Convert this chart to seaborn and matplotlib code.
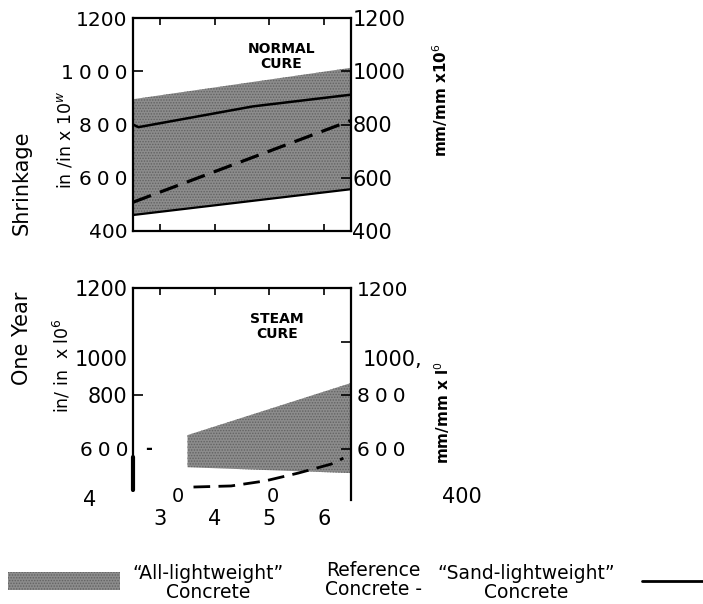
import numpy as np
import pandas as pd
import matplotlib
matplotlib.use("Agg")
import matplotlib.pyplot as plt
from matplotlib.patches import Rectangle
from matplotlib.lines import Line2D
import seaborn as sns

# ---- data (shrinkage, in/in x 10^6) ----
# Normal cure
normal_x = [2.5, 6.5]
normal_all_lw_low = [460, 557]
normal_all_lw_high = [895, 1013]
normal_sand_x = [2.5, 2.6, 4.7, 6.5]
normal_sand_y = [800, 790, 868, 912]
normal_ref_x = [2.5, 6.5]
normal_ref_y = [508, 815]

# Steam cure
steam_x = [3.5, 6.5]
steam_all_lw_low = [530, 508]
steam_all_lw_high = [650, 845]
steam_ref_x = [3.61, 4.30, 4.93, 5.53, 6.14, 6.36]
steam_ref_y = [456, 460, 479, 508, 542, 564]

x_ticks = [3, 4, 5, 6]
x_tick_labels = ["3", "4", "5", "6"]

sns.set_style("ticks")
plt.rcParams["font.family"] = ["DejaVu Sans"]
for key in ("text.color", "axes.labelcolor", "xtick.color", "ytick.color"):
    plt.rcParams[key] = "black"

SP = "\u2005"  # narrow gap between spaced-out digits


def spaced(s):
    return SP.join(s)


W, H = 703, 604
fig = plt.figure(figsize=(W / 100, H / 100), dpi=100)
fig.patch.set_facecolor("white")


def fx(px):
    return px / W


def fy(py):
    return 1 - py / H


BAND_FACE = "#8c8c8c"
BAND_HATCH = "#626262"
plt.rcParams["hatch.linewidth"] = 0.7

ax_n = fig.add_axes([fx(133), fy(231), fx(351) - fx(133), fy(18) - fy(231)])
ax_s = fig.add_axes([fx(133), fy(502), fx(351) - fx(133), fy(288) - fy(502)])

for ax in (ax_n, ax_s):
    ax.set_xlim(2.5, 6.5)
    ax.set_ylim(400, 1200)
    for sp in ax.spines.values():
        sp.set_linewidth(1.6)
        sp.set_color("black")

# ---- normal cure panel ----
ax_n.fill_between(normal_x, normal_all_lw_low, normal_all_lw_high,
                  facecolor=BAND_FACE, edgecolor=BAND_HATCH, hatch="......",
                  linewidth=0, zorder=1)
df_nl = pd.DataFrame({"x": normal_x, "y": normal_all_lw_low})
sns.lineplot(data=df_nl, x="x", y="y", ax=ax_n, color="black", lw=1.6, zorder=3)
df_ns = pd.DataFrame({"x": normal_sand_x, "y": normal_sand_y})
sns.lineplot(data=df_ns, x="x", y="y", ax=ax_n, color="black", lw=1.8,
             sort=False, zorder=3)
df_nr = pd.DataFrame({"x": normal_ref_x, "y": normal_ref_y})
sns.lineplot(data=df_nr, x="x", y="y", ax=ax_n, color="black", lw=2.3,
             zorder=3).lines[-1].set_dashes([6, 3])

ax_n.set_xticks(x_ticks)
ax_n.tick_params(axis="x", direction="in", length=5, width=1.2,
                 top=True, bottom=True, labelbottom=False)
ax_n.set_yticks([400, 600, 800, 1000, 1200])
ax_n.set_yticklabels(["400", spaced("600"), spaced("800"), spaced("1000"),
                      "1200"])
ax_n.tick_params(axis="y", direction="in", length=7, width=1.2, labelsize=14.5,
                 pad=4)
ax_n.set_xlabel("")
ax_n.set_ylabel("")

axr_n = ax_n.twinx()
axr_n.set_ylim(400, 1200)
axr_n.set_yticks([400, 600, 800, 1000, 1200])
axr_n.set_yticklabels(["400", "600", "800", "1000", "1200"])
axr_n.tick_params(axis="y", direction="in", length=7, width=1.2, labelsize=15,
                  pad=1)
for sp in axr_n.spines.values():
    sp.set_visible(False)

ax_n.text(0.68, 0.82, "NORMAL\nCURE", transform=ax_n.transAxes, ha="center",
          va="center", fontsize=10, fontweight="bold", linespacing=1.1)

# ---- steam cure panel ----
ax_s.fill_between(steam_x, steam_all_lw_low, steam_all_lw_high,
                  facecolor=BAND_FACE, edgecolor=BAND_HATCH, hatch="......",
                  linewidth=0, zorder=1)
df_sr = pd.DataFrame({"x": steam_ref_x, "y": steam_ref_y})
sns.lineplot(data=df_sr, x="x", y="y", ax=ax_s, color="black", lw=2.0,
             zorder=3).lines[-1].set_dashes([6, 3])

ax_s.spines["bottom"].set_visible(False)
ax_s.spines["left"].set_bounds(445, 1200)
ax_s.spines["right"].set_bounds(407, 1200)
ax_s.set_xticks(x_ticks)
ax_s.set_xticklabels(x_tick_labels)
ax_s.tick_params(axis="x", direction="in", length=5, width=1.2, top=True,
                 bottom=False, labelsize=15, pad=5)
ax_s.set_yticks([800, 1200])
ax_s.set_yticklabels(["800", "1200"])
ax_s.tick_params(axis="y", direction="in", length=7, width=1.2, labelsize=15,
                 pad=4)
ax_s.set_xlabel("")
ax_s.set_ylabel("")
# heavier stroke on the lower end of the left axis line
ax_s.plot([2.5, 2.5], [445, 570], color="black", lw=3.0, zorder=4,
          clip_on=False)

axr_s = ax_s.twinx()
axr_s.set_ylim(400, 1200)
axr_s.set_yticks([600, 800, 1000, 1200])
axr_s.set_yticklabels([spaced("600"), spaced("800"), "", "1200"])
axr_s.tick_params(axis="y", direction="in", length=7, width=1.2, labelsize=14.5,
                  pad=4)
for sp in axr_s.spines.values():
    sp.set_visible(False)

ax_s.text(0.66, 0.82, "STEAM\nCURE", transform=ax_s.transAxes, ha="center",
          va="center", fontsize=10, fontweight="bold", linespacing=1.1)

# stray labels around the steam panel
fig.text(fx(128), fy(451), spaced("600"), ha="right", va="center",
         fontsize=14.5)
fig.text(fx(128), fy(360), "1000", ha="right", va="center", fontsize=15)
fig.text(fx(363), fy(360), "1000,", ha="left", va="center", fontsize=15)
fig.text(fx(149), fy(449), "-", ha="center", va="center", fontsize=12,
         fontweight="bold")
fig.text(fx(90), fy(500), "4", ha="center", va="center", fontsize=15)
fig.text(fx(178), fy(497), "0", ha="center", va="center", fontsize=14)
fig.text(fx(273), fy(497), "0", ha="center", va="center", fontsize=14)
fig.text(fx(351), fy(494), "'", ha="center", va="center", fontsize=12)
fig.text(fx(462), fy(497), "400", ha="center", va="center", fontsize=15)

# axis titles
fig.text(fx(22), fy(183), "Shrinkage", rotation=90, ha="center", va="center",
         fontsize=15)
fig.text(fx(22), fy(338), "One Year", rotation=90, ha="center", va="center",
         fontsize=15)
fig.text(fx(65), fy(140), "in /in x 10$^{w}$", rotation=90, ha="center",
         va="center", fontsize=12.5)
fig.text(fx(62), fy(366), "in/ in  x l0$^{6}$", rotation=90, ha="center",
         va="center", fontsize=12.5)
fig.text(fx(440), fy(100), "mm/mm x10$^{6}$", rotation=90, ha="center",
         va="center", fontsize=11, fontweight="bold")
fig.text(fx(442), fy(412), "mm/mm x l$^{0}$", rotation=90, ha="center",
         va="center", fontsize=11, fontweight="bold")

# ---- legend ----
fig.patches.append(Rectangle((fx(8), fy(590)), fx(120) - fx(8), fy(572) - fy(590),
                             transform=fig.transFigure, facecolor=BAND_FACE,
                             edgecolor=BAND_HATCH, hatch="......", linewidth=0))
leg_font = dict(fontsize=13.5, ha="center", va="center", linespacing=1.0,
                fontweight="medium")
fig.text(fx(208), fy(583), "\u201cAll-lightweight\u201d\nConcrete", **leg_font)
fig.text(fx(373), fy(580), "Reference\nConcrete -", **leg_font)
fig.text(fx(526), fy(583), "\u201cSand-lightweight\u201d\nConcrete", **leg_font)
fig.lines.append(Line2D([fx(642), fx(703)], [fy(581), fy(581)],
                        transform=fig.transFigure, color="black", lw=2))

fig.savefig("out.png", dpi=100, facecolor="white")
